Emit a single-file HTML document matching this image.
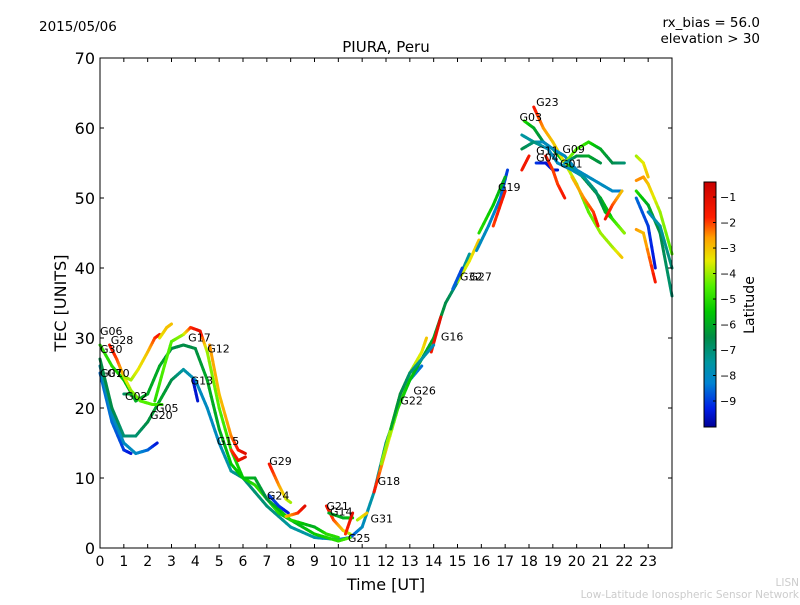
<!DOCTYPE html>
<html><head><meta charset="utf-8"><style>
body{margin:0;background:#fff;}
svg text{font-family:"DejaVu Sans","Liberation Sans",sans-serif;}
</style></head><body>
<svg id="chart" width="800" height="600" viewBox="0 0 800 600" xmlns="http://www.w3.org/2000/svg">
<rect width="800" height="600" fill="#fff"/>
<g id="tracks"></g>
<g id="labels"></g>
<g id="axes"></g>
<text x="39" y="31" font-size="13.5">2015/05/06</text>
<text x="386" y="52" font-size="15" text-anchor="middle">PIURA, Peru</text>
<text x="760" y="27" font-size="13.5" text-anchor="end">rx_bias = 56.0</text>
<text x="760" y="43" font-size="13.5" text-anchor="end">elevation &gt; 30</text>
<text x="386" y="590" font-size="16" text-anchor="middle">Time [UT]</text>
<text transform="translate(66,303) rotate(-90)" font-size="16" text-anchor="middle">TEC [UNITS]</text>
<text x="799" y="586" font-size="10.5" fill="#ccc" text-anchor="end">LISN</text>
<text x="799" y="598" font-size="10.5" fill="#ccc" text-anchor="end">Low-Latitude Ionospheric Sensor Network</text>
<g id="cbar"></g>
<text transform="translate(754,305) rotate(-90)" font-size="14" text-anchor="middle">Latitude</text>
</svg>
<script>
// each track: [time, tec, latitude] points
const trackNames = ["G10a","G30","G07","G13","G06","G28","G02","G28b","G28c","G17","G12","G15","G29","G24","G24b","G21","G14","G14b","G31","G18","G22","G16","G26","G32","G27","G19a","G19b","G19c","G03","G23","G11","G11b","G04","G04b","G09","G01","G17b","G09b","R1","R2","R3","R4","R5","R6","R7"];
const trackPoints = [
[[0,25,-8.5],[0.5,18,-8.5],[1,14,-9],[1.3,13.5,-9.5]],
[[0,26,-7.5],[0.5,19,-8],[1,15,-8],[1.5,13.5,-8],[2,14,-8.5],[2.4,15,-9.5]],
[[0,27,-6.5],[0.5,20,-6.5],[1,16,-7],[1.5,16,-7],[2,18,-6.5],[2.5,21,-6],[3,24,-6.5],[3.5,25.5,-7.5],[4,24,-8],[4.5,20,-8],[5,15,-8],[5.5,11,-7.5],[6,10,-7],[7,6,-7],[8,3,-7.5],[9,1.5,-7.5],[10,1.2,-8],[10.5,1.5,-9],[11,3,-8],[11.5,8,-7.5],[12,15,-7],[12.5,20,-7.5],[13,24,-8],[13.5,26,-8.5]],
[[3.9,24,-9.5],[4.1,21,-9.5]],
[[0,29,-5],[0.5,26,-5],[1,24,-5.5],[1.5,21,-6],[2,22,-6],[2.5,26,-6],[3,28.5,-6.5],[3.5,29,-6.5],[4,28.5,-6.5],[4.5,24,-6],[5,17,-6],[5.5,12,-5.5],[6,10,-5.5],[6.5,9,-5],[7,7,-5],[7.5,5,-5],[8,4,-6],[9,2,-5.5],[10,1,-5],[10.5,1.5,-4.5]],
[[0.4,29,-1.5],[0.7,27,-2],[1,24.5,-3],[1.3,22.5,-4],[1.7,21,-4.5],[2.2,20.5,-4.5],[2.6,20.5,-5]],
[[1,22,-7],[1.3,22,-6]],
[[1,24.5,-4],[1.3,24,-4],[1.6,25.5,-3.5],[2,28,-3],[2.3,30,-2],[2.5,30.5,-1.5]],
[[2.5,30,-3.5],[2.8,31.5,-3],[3,32,-3]],
[[2.3,21,-5],[2.7,26,-4.5],[3,29.5,-4.5],[3.5,30.5,-4],[3.8,31.5,-2],[4.2,31,-1],[4.5,28,-4],[5,20,-4.5],[5.5,14,-5],[6,10,-5.5],[6.5,10,-6],[7,7,-6.5],[8,4,-5],[9,3,-6],[9.5,2,-5],[10,1.5,-5]],
[[4.6,29,-2.5],[5,22,-3],[5.5,16,-2.5],[5.8,14,-1.5],[6.1,13.5,-1]],
[[5.5,14,-2],[5.8,12.5,-1.5],[6.1,13,-1]],
[[7.1,12,-1.5],[7.5,9,-2.5],[7.8,7,-3.5],[8,6.5,-4]],
[[7.1,7.5,-9],[7.5,6,-9],[7.9,5,-9.5]],
[[7.8,4.5,-3],[8.3,5,-2],[8.6,6,-1]],
[[9.5,6,-1.5],[9.8,4,-2],[10.2,2.5,-3],[10.5,2,-4]],
[[9.6,5,-6],[10.2,4.3,-6],[10.6,4.3,-5.5]],
[[10.3,2,-2],[10.6,5,-1]],
[[10.8,4,-4],[11.2,5,-3]],
[[11.5,8,-1.5],[12,14,-3],[12.5,20,-5],[13,24,-5.5],[13.5,27,-6],[14,30,-6],[14.5,35,-6.5],[15,38,-7],[15.5,42,-7.5]],
[[11.8,12,-4],[12.2,17,-4],[12.6,22,-4],[13,25,-4],[13.5,28,-3.5],[13.7,30,-3]],
[[13.9,28,-1.5],[14.3,33,-1]],
[[12.2,17,-6],[12.6,22,-6.5],[13,25,-7],[13.5,27,-7.5],[14,29,-8]],
[[15,38,-4],[15.5,41,-3.5],[15.9,44,-3]],
[[14.8,37,-8.5],[15.2,40,-9]],
[[15.8,42.5,-8],[16.3,46,-8],[16.8,50,-8.5],[17.1,54,-9]],
[[15.9,45,-5],[16.5,49,-5.5],[17,53,-6]],
[[16.5,46,-2],[17,51,-1.5]],
[[17.8,61,-5],[18.2,60,-6],[18.6,58,-6.5],[19,57,-6],[19.5,55,-5.5],[20,54,-6],[20.5,52,-6.5],[21,50,-6],[21.5,47,-5.5],[22,45,-5]],
[[18.2,63,-1.5],[18.6,60,-2.5],[19,58,-3],[19.5,55,-3.5],[20,52,-4],[20.5,48,-4.5],[21,45,-4],[21.5,43,-4],[21.9,41.5,-3]],
[[17.7,59,-7.5],[18.2,58,-7.5],[18.6,58,-8],[19,57,-8],[19.5,56,-8],[20,54,-8],[20.5,53,-8],[21,52,-8],[21.5,51,-8],[21.9,51,-8.5]],
[[17.7,57,-6.5],[18.2,58,-7],[18.8,57,-8],[19.2,55,-8],[19.8,54,-8],[20.3,53,-7.5],[20.8,51,-7],[21.2,48,-6],[21.5,47,-5],[22,45,-4]],
[[18.3,55,-9],[18.7,55,-9.5],[19,54,-9.5],[19.2,54,-9.5]],
[[18.7,56,-1.5],[19,54,-2],[19.2,52,-2],[19.5,50,-1.5]],
[[19.5,55,-4],[20,57,-4.5],[20.5,58,-5],[21,57,-6],[21.5,55,-6.5],[22,55,-7]],
[[19.5,55,-8],[20,56,-6.5],[20.5,56,-6],[21,55,-6.5]],
[[17.7,54,-1.5],[18,56,-1.5]],
[[19.8,53,-3],[20.3,50,-2.5],[20.7,48,-2],[20.9,46,-1.5]],
[[21.2,47,-1.5],[21.5,49,-2],[21.9,51,-3]],
[[22.5,56,-4],[22.8,55,-3.5],[23,53,-3]],
[[22.5,52.5,-2.5],[22.8,53,-2.5],[23,52,-3],[23.5,48,-4],[24,42,-4.5]],
[[22.5,51,-5],[23,49,-6],[23.5,45,-6.5],[24,36,-7]],
[[22.5,50,-8.5],[23,46,-9],[23.3,40,-9.5]],
[[23,48,-8],[23.5,46,-7.5],[24,40,-7]],
[[22.5,45.5,-2.5],[22.8,45,-3],[23.3,38,-1.5]]
];
const labelNames = ["G06","G28","G30","G07","G10","G02","G05","G20","G17","G12","G13","G15","G29","G24","G21","G14","G25","G31","G18","G22","G26","G16","G32","G27","G19","G03","G23","G11","G04","G09","G01"];
const labelTimes = [0,0.45,0,0,0.3,1.05,2.35,2.1,3.7,4.5,3.8,4.9,7.1,7,9.5,9.65,10.4,11.35,11.65,12.6,13.15,14.3,15.1,15.5,16.7,17.6,18.3,18.3,18.3,19.4,19.3];
const labelTecs = [31,29.7,28.4,25,25,21.7,20,19,30.1,28.5,23.9,15.3,12.4,7.5,6,5.2,1.4,4.2,9.6,21.1,22.5,30.2,38.8,38.8,51.6,61.6,63.7,56.8,55.8,57,54.9];
const xTicks = Array.from({length:24},(_,i)=>i);
const yTicks = [0,10,20,30,40,50,60,70];
const cbTicks = [-1,-2,-3,-4,-5,-6,-7,-8,-9];

const X0=100,X1=672,Y0=548,Y1=58;
const xs = t => X0 + t*(X1-X0)/24;
const ys = v => Y0 - v*(Y0-Y1)/70;
const LMIN=-10.02, LMAX=-0.41;
const cmapLat=[-10.02,-9.3,-8.3,-7.5,-6.5,-5.5,-4.5,-3.5,-2.6,-1.8,-0.41];
const cmapRGB=[[0,0,150],[0,30,230],[0,130,210],[0,150,160],[0,140,70],[0,200,0],[80,240,0],[230,235,0],[255,160,0],[255,30,0],[200,0,0]];
function jet(v){
  v=Math.max(LMIN,Math.min(LMAX,v));
  let i=0;while(i<cmapLat.length-2&&v>cmapLat[i+1])i++;
  const f=(v-cmapLat[i])/(cmapLat[i+1]-cmapLat[i]);
  const a=cmapRGB[i],b=cmapRGB[i+1];
  return `rgb(${Math.round(a[0]+(b[0]-a[0])*f)},${Math.round(a[1]+(b[1]-a[1])*f)},${Math.round(a[2]+(b[2]-a[2])*f)})`;
}
const NS="http://www.w3.org/2000/svg";
function mk(tag,attrs,parent){const e=document.createElementNS(NS,tag);for(const k in attrs)e.setAttribute(k,attrs[k]);parent.appendChild(e);return e;}

const tg=document.getElementById('tracks');
trackPoints.forEach((pts,ti)=>{
  const g=mk('g',{},tg);
  
  
  for(let i=0;i<pts.length-1;i++){
    const a=pts[i],b=pts[i+1];
    const n=6;
    for(let k=0;k<n;k++){
      const u0=k/n,u1=(k+1)/n,um=(u0+u1)/2;
      const lat=a[2]+(b[2]-a[2])*um;
      const l=mk('line',{x1:xs(a[0]+(b[0]-a[0])*u0),y1:ys(a[1]+(b[1]-a[1])*u0),x2:xs(a[0]+(b[0]-a[0])*u1),y2:ys(a[1]+(b[1]-a[1])*u1),stroke:jet(lat),'stroke-width':3,'stroke-linecap':'round'},g);
      
      
    }
  }
});
const lg=document.getElementById('labels');
labelNames.forEach((n,i)=>{
  const t=mk('text',{x:xs(labelTimes[i]),y:ys(labelTecs[i])+4,'font-size':11},lg);
  t.textContent=n;
  
  
});
const ax=document.getElementById('axes');
const fr=mk('rect',{x:X0,y:Y1,width:X1-X0,height:Y0-Y1,fill:'none',stroke:'#000','stroke-width':1},ax);


xTicks.forEach(t=>{
  const x=xs(t);
  mk('line',{x1:x,y1:Y0,x2:x,y2:Y0-4,stroke:'#000'},ax);
  mk('line',{x1:x,y1:Y1,x2:x,y2:Y1+4,stroke:'#000'},ax);
  const tx=mk('text',{x:x,y:Y0+18,'font-size':14,'text-anchor':'middle'},ax);
  tx.textContent=t;
  
  
});
yTicks.forEach(v=>{
  const y=ys(v);
  mk('line',{x1:X0,y1:y,x2:X0+4,y2:y,stroke:'#000'},ax);
  mk('line',{x1:X1,y1:y,x2:X1-4,y2:y,stroke:'#000'},ax);
  const tx=mk('text',{x:X0-5,y:y+6,'font-size':16,'text-anchor':'end'},ax);
  tx.textContent=v;
  
  
});
const cb=document.getElementById('cbar');
const CX=704,CW=12,CT=182,CB=427;
for(let y=CT;y<CB;y++){
  const v=LMAX-(y-CT+0.5)/(CB-CT)*(LMAX-LMIN);
  mk('rect',{x:CX,y:y,width:CW,height:1.05,fill:jet(v)},cb);
}
mk('rect',{x:CX,y:CT,width:CW,height:CB-CT,fill:'none',stroke:'#000'},cb);
cbTicks.forEach(v=>{
  const y=CT+(LMAX-v)/(LMAX-LMIN)*(CB-CT);
  mk('line',{x1:CX+CW-3,y1:y,x2:CX+CW,y2:y,stroke:'#000'},cb);
  const tx=mk('text',{x:CX+CW+4,y:y+4,'font-size':11},cb);
  tx.textContent='\u2212'+(-v);
  
  
});
</script>
</body></html>
